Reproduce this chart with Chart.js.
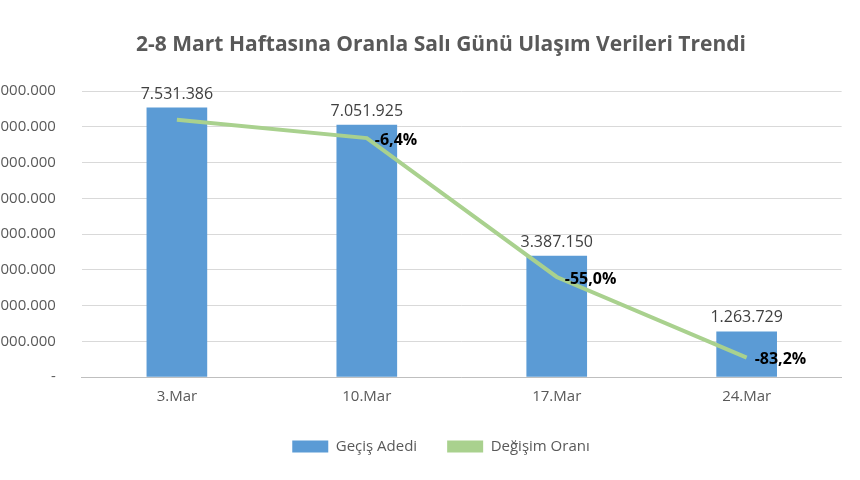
<!DOCTYPE html>
<html>
<head>
<meta charset="utf-8">
<script src="https://cdn.jsdelivr.net/npm/chart.js@4"></script>
<style>
  html, body { margin: 0; padding: 0; background: #fff; overflow: hidden; }
  #wrap { position: absolute; left: -38px; top: 0; width: 958px; height: 480px; }
</style>
</head>
<body>
<div id="wrap"><canvas id="chart"></canvas></div>
<script>
// Données
const categories = ['3.Mar', '10.Mar', '17.Mar', '24.Mar'];
const gecisAdedi = [7531386, 7051925, 3387150, 1263729];
const degisimOrani = [0, -6.4, -55.0, -83.2];
const changeLabels = ['', '-6,4%', '-55,0%', '-83,2%'];

const fmtNum = v => v === 0 ? '-' : v.toLocaleString('de-DE');
const fmtPct = v => v.toFixed(0) + '%';

// Étiquettes des valeurs
const valueLabels = {
    id: 'valueLabels',
    afterDatasetsDraw(chart) {
        const ctx = chart.ctx;
        ctx.save();
        chart.getDatasetMeta(1).data.forEach((bar, i) => {
            ctx.font = '16px "Open Sans", sans-serif';
            ctx.fillStyle = '#404040';
            ctx.textAlign = 'center';
            ctx.textBaseline = 'bottom';
            ctx.fillText(fmtNum(gecisAdedi[i]), bar.x, bar.y - 6);
        });
        chart.getDatasetMeta(0).data.forEach((pt, i) => {
            if (!changeLabels[i]) return;
            ctx.font = 'bold 16px "Open Sans", sans-serif';
            ctx.fillStyle = '#000';
            ctx.textAlign = 'left';
            ctx.textBaseline = 'middle';
            ctx.fillText(changeLabels[i], pt.x + 8, pt.y + 2);
        });
        ctx.restore();
    }
};

new Chart(document.getElementById('chart'), {
    data: {
        labels: categories,
        datasets: [{
            type: 'line',
            label: 'Değişim Oranı',
            data: degisimOrani,
            yAxisID: 'y1',
            borderColor: '#a9d18e',
            backgroundColor: '#a9d18e',
            borderWidth: 4,
            pointRadius: 0,
            tension: 0
        }, {
            type: 'bar',
            label: 'Geçiş Adedi',
            data: gecisAdedi,
            yAxisID: 'y',
            backgroundColor: '#5b9bd5',
            barThickness: 60
        }]
    },
    options: {
        responsive: true,
        maintainAspectRatio: false,
        animation: false,
        layout: { padding: { top: 10, bottom: 16 } },
        plugins: {
            title: {
                display: true,
                text: '2-8 Mart Haftasına Oranla Salı Günü Ulaşım Verileri Trendi',
                color: '#595959',
                font: { family: '"Open Sans", sans-serif', size: 21, weight: 'bold' },
                padding: { top: 22, bottom: 34 }
            },
            legend: {
                position: 'bottom',
                reverse: true,
                labels: {
                    color: '#595959',
                    font: { family: '"Open Sans", sans-serif', size: 15 },
                    boxWidth: 36,
                    boxHeight: 12,
                    padding: 30,
                    generateLabels(chart) {
                        return chart.data.datasets.map((ds, i) => ({
                            text: ds.label,
                            fillStyle: ds.type === 'bar' ? ds.backgroundColor : ds.borderColor,
                            strokeStyle: 'transparent',
                            lineWidth: 0,
                            datasetIndex: i,
                            fontColor: '#595959'
                        }));
                    }
                }
            },
            tooltip: { enabled: false }
        },
        scales: {
            x: {
                grid: { display: false },
                border: { color: '#bfbfbf' },
                ticks: { color: '#595959', font: { family: '"Open Sans", sans-serif', size: 15 } }
            },
            y: {
                position: 'left',
                min: 0, max: 8000000,
                ticks: {
                    stepSize: 1000000,
                    color: '#595959',
                    font: { family: '"Open Sans", sans-serif', size: 15 },
                    callback: v => fmtNum(v),
                    padding: 26
                },
                grid: { color: '#d9d9d9', drawTicks: false },
                border: { display: false }
            },
            y1: {
                position: 'right',
                min: -90, max: 10,
                ticks: {
                    stepSize: 10,
                    color: '#595959',
                    font: { family: '"Open Sans", sans-serif', size: 15 },
                    callback: v => fmtPct(v),
                    padding: 18
                },
                grid: { display: false },
                border: { display: false }
            }
        }
    },
    plugins: [valueLabels]
});
</script>
</body>
</html>
